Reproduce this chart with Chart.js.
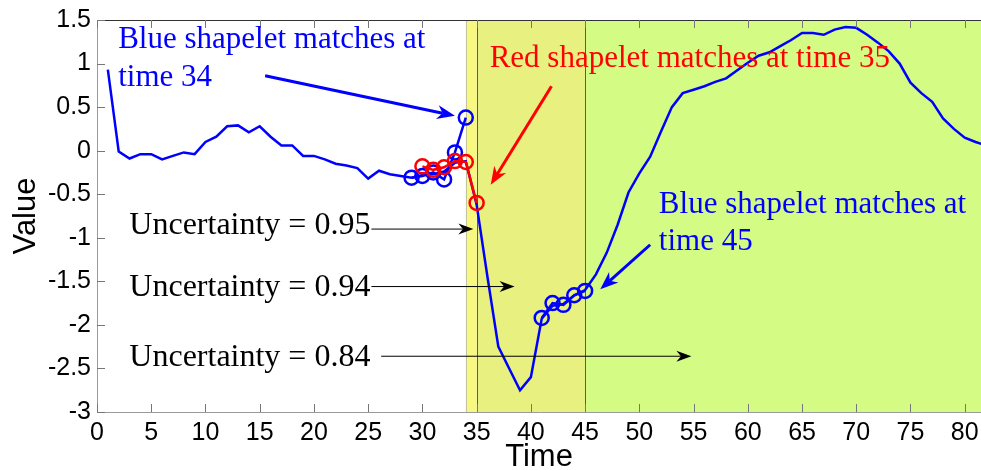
<!DOCTYPE html>
<html>
<head>
<meta charset="utf-8">
<script src="https://cdn.jsdelivr.net/npm/chart.js@4/dist/chart.umd.min.js"></script>
<style>
  html, body { margin: 0; padding: 0; background: #fff; }
  #wrap { width: 981px; height: 470px; }
</style>
</head>
<body>
<div id="wrap"><canvas id="shapeletChart" width="981" height="470"></canvas></div>
<script>
// time series, first sample at t = 1
const seriesStart = 1;
const seriesValues = [
  0.93, -0.01, -0.09, -0.04, -0.04, -0.10, -0.06, -0.02, -0.04, 0.10,
  0.16, 0.28, 0.29, 0.21, 0.28, 0.16, 0.06, 0.06, -0.06, -0.06,
  -0.10, -0.15, -0.17, -0.20, -0.32, -0.23, -0.27, -0.29, -0.31, -0.28,
  -0.27, -0.24, -0.14, -0.12, -0.62, -1.45, -2.25, -2.50, -2.75, -2.60,
  -1.93, -1.78, -1.76, -1.66, -1.60, -1.42, -1.17, -0.85, -0.48, -0.26,
  -0.07, 0.22, 0.50, 0.66, 0.70, 0.74, 0.79, 0.83, 0.92, 1.01,
  1.09, 1.13, 1.20, 1.27, 1.35, 1.35, 1.33, 1.39, 1.42, 1.41,
  1.33, 1.24, 1.14, 1.00, 0.78, 0.66, 0.56, 0.37, 0.25, 0.15,
  0.10, 0.06
];

// shapelet matches
const blueMatchATimes = [29, 30, 31, 32, 33, 34];
const blueMatchAValues = [-0.31, -0.29, -0.25, -0.33, -0.02, 0.38];
const redMatchTimes = [30, 31, 32, 33, 34, 35];
const redMatchValues = [-0.18, -0.22, -0.19, -0.12, -0.13, -0.60];
const blueMatchBTimes = [41, 42, 43, 44, 45];
const blueMatchBValues = [-1.92, -1.75, -1.77, -1.66, -1.61];

// axes
const xTicks = [0, 5, 10, 15, 20, 25, 30, 35, 40, 45, 50, 55, 60, 65, 70, 75, 80];
const yTicks = [-3, -2.5, -2, -1.5, -1, -0.5, 0, 0.5, 1, 1.5];
const xMin = 0, xMax = 81.5, yMin = -3, yMax = 1.5;

// shaded time regions
const regionStarts = [34, 35, 45];
const regionEnds = [35, 45, 81.5];
const regionLines = [35, 45];

// annotation texts
const uncertaintyLabels = ['Uncertainty = 0.95', 'Uncertainty = 0.94', 'Uncertainty = 0.84'];

const toPoints = (ts, vs) => ts.map((t, i) => ({ x: t, y: vs[i] }));
const seriesPoints = seriesValues.map((v, i) => ({ x: seriesStart + i, y: v }));

// where annotations go, in data units
const notes = [
  { text: 'Blue shapelet matches at', x: 1.95, y: 1.18, color: '#0000ff', size: 31 },
  { text: 'time 34', x: 1.95, y: 0.745, color: '#0000ff', size: 31 },
  { text: 'Red shapelet matches at time 35', x: 36.2, y: 0.955, color: '#ff0000', size: 31 },
  { text: 'Blue shapelet matches at', x: 51.8, y: -0.71, color: '#0000ff', size: 31 },
  { text: 'time 45', x: 51.8, y: -1.14, color: '#0000ff', size: 31 },
  { text: uncertaintyLabels[0], x: 2.98, y: -0.96, color: '#000000', size: 32 },
  { text: uncertaintyLabels[1], x: 2.98, y: -1.67, color: '#000000', size: 32 },
  { text: uncertaintyLabels[2], x: 2.98, y: -2.47, color: '#000000', size: 32 }
];
const arrows = [
  { from: [15.5, 0.86], to: [33.0, 0.40], color: '#0000ff', width: 3, len: 18, half: 7 },
  { from: [41.9, 0.74], to: [36.3, -0.39], color: '#ff0000', width: 3, len: 18, half: 7 },
  { from: [51.0, -1.08], to: [46.4, -1.59], color: '#0000ff', width: 3, len: 18, half: 7 },
  { from: [25.3, -0.90], to: [34.7, -0.90], color: '#000000', width: 1, len: 15, half: 5.5 },
  { from: [25.3, -1.56], to: [38.5, -1.56], color: '#000000', width: 1, len: 15, half: 5.5 },
  { from: [26.2, -2.36], to: [54.8, -2.36], color: '#000000', width: 1, len: 15, half: 5.5 }
];

const regionColors = ['#f8f880', '#e8f080', '#d4fc84'];

const backdrop = {
  id: 'backdrop',
  beforeDatasetsDraw(chart) {
    const { ctx, chartArea: a, scales: { x } } = chart;
    ctx.save();
    regionStarts.forEach((s, i) => {
      const x0 = x.getPixelForValue(s);
      const x1 = x.getPixelForValue(regionEnds[i]);
      ctx.fillStyle = regionColors[i];
      ctx.fillRect(x0, a.top, x1 - x0, a.bottom - a.top);
    });
    ctx.lineWidth = 1;
    ctx.strokeStyle = '#c4c49a';
    let px = Math.round(x.getPixelForValue(regionStarts[0])) + 0.5;
    ctx.beginPath(); ctx.moveTo(px, a.top); ctx.lineTo(px, a.bottom); ctx.stroke();
    ctx.strokeStyle = '#5c5c48';
    regionLines.forEach(t => {
      px = Math.round(x.getPixelForValue(t)) + 0.5;
      ctx.beginPath(); ctx.moveTo(px, a.top); ctx.lineTo(px, a.bottom); ctx.stroke();
    });
    ctx.restore();
  }
};

function drawArrow(ctx, x0, y0, x1, y1, ar) {
  const dx = x1 - x0, dy = y1 - y0;
  const d = Math.hypot(dx, dy);
  const ux = dx / d, uy = dy / d;
  const nx = -uy, ny = ux;
  const bx = x1 - ux * ar.len, by = y1 - uy * ar.len;
  const mx = x1 - ux * ar.len * 0.7, my = y1 - uy * ar.len * 0.7;
  ctx.strokeStyle = ar.color;
  ctx.fillStyle = ar.color;
  ctx.lineWidth = ar.width;
  ctx.beginPath(); ctx.moveTo(x0, y0); ctx.lineTo(mx, my); ctx.stroke();
  ctx.beginPath();
  ctx.moveTo(x1, y1);
  ctx.lineTo(bx + nx * ar.half, by + ny * ar.half);
  ctx.lineTo(mx, my);
  ctx.lineTo(bx - nx * ar.half, by - ny * ar.half);
  ctx.closePath();
  ctx.fill();
}

const overlay = {
  id: 'overlay',
  afterDatasetsDraw(chart) {
    const { ctx, chartArea: a, scales: { x, y } } = chart;
    ctx.save();
    // frame
    ctx.lineWidth = 1;
    ctx.strokeStyle = '#9a9a9a';
    ctx.beginPath();
    ctx.moveTo(a.left + 0.5, a.top); ctx.lineTo(a.left + 0.5, a.bottom + 0.5);
    ctx.lineTo(a.right, a.bottom + 0.5);
    ctx.stroke();
    ctx.strokeStyle = '#333';
    ctx.beginPath(); ctx.moveTo(a.left, a.top + 0.5); ctx.lineTo(a.right, a.top + 0.5); ctx.stroke();
    // inward ticks
    ctx.strokeStyle = '#777';
    xTicks.forEach(t => {
      const px = Math.round(x.getPixelForValue(t)) + 0.5;
      ctx.beginPath();
      ctx.moveTo(px, a.bottom); ctx.lineTo(px, a.bottom - 8);
      ctx.moveTo(px, a.top); ctx.lineTo(px, a.top + 8);
      ctx.stroke();
    });
    yTicks.forEach(v => {
      const py = Math.round(y.getPixelForValue(v)) + 0.5;
      ctx.beginPath();
      ctx.moveTo(a.left, py); ctx.lineTo(a.left + 8, py);
      ctx.stroke();
    });
    // arrows
    arrows.forEach(ar => {
      drawArrow(ctx, x.getPixelForValue(ar.from[0]), y.getPixelForValue(ar.from[1]),
        x.getPixelForValue(ar.to[0]), y.getPixelForValue(ar.to[1]), ar);
    });
    // texts
    ctx.textBaseline = 'alphabetic';
    ctx.textAlign = 'left';
    notes.forEach(n => {
      ctx.font = n.size + 'px "Liberation Serif", "Times New Roman", serif';
      ctx.fillStyle = n.color;
      ctx.fillText(n.text, x.getPixelForValue(n.x), y.getPixelForValue(n.y));
    });
    ctx.restore();
  }
};

const circleSet = (label, pts, color, order) => ({
  label: label,
  data: pts,
  borderColor: color,
  borderWidth: 2.5,
  pointRadius: 7,
  pointBorderWidth: 2.5,
  pointBackgroundColor: 'rgba(0,0,0,0)',
  pointBorderColor: color,
  showLine: true,
  order: order
});

const ctx = document.getElementById('shapeletChart').getContext('2d');
const chart = new Chart(ctx, {
  type: 'scatter',
  data: {
    datasets: [
      circleSet('Red shapelet', toPoints(redMatchTimes, redMatchValues), '#ff0000', 0),
      circleSet('Blue shapelet A', toPoints(blueMatchATimes, blueMatchAValues), '#0000ff', 1),
      circleSet('Blue shapelet B', toPoints(blueMatchBTimes, blueMatchBValues), '#0000ff', 1),
      {
        label: 'Series',
        data: seriesPoints,
        borderColor: '#0000ff',
        borderWidth: 2.5,
        pointRadius: 0,
        showLine: true,
        order: 2
      }
    ]
  },
  options: {
    responsive: false,
    animation: false,
    events: [],
    layout: { autoPadding: false, padding: { top: 20, right: 0, left: 0, bottom: 0 } },
    plugins: { legend: { display: false }, tooltip: { enabled: false } },
    scales: {
      x: {
        type: 'linear',
        min: xMin,
        max: xMax,
        grid: { display: false, drawTicks: false },
        border: { display: false },
        afterBuildTicks: s => { s.ticks = xTicks.map(v => ({ value: v })); },
        afterFit: s => { s.height = 58; s.paddingLeft = 0; s.paddingRight = 0; },
        ticks: {
          color: '#000',
          padding: 6,
          maxRotation: 0,
          font: { family: '"Liberation Sans", Arial, sans-serif', size: 25 },
          callback: v => String(v)
        },
        title: {
          display: true,
          text: 'Time',
          color: '#000',
          padding: { top: 0, bottom: 0 },
          font: { family: '"Liberation Sans", Arial, sans-serif', size: 31, lineHeight: 0.8 }
        }
      },
      y: {
        type: 'linear',
        min: yMin,
        max: yMax,
        grid: { display: false, drawTicks: false },
        border: { display: false },
        afterBuildTicks: s => { s.ticks = yTicks.map(v => ({ value: v })); },
        afterFit: s => { s.width = 97; s.paddingTop = 0; s.paddingBottom = 0; },
        ticks: {
          color: '#000',
          padding: 6,
          font: { family: '"Liberation Sans", Arial, sans-serif', size: 25 },
          callback: v => String(v)
        },
        title: {
          display: true,
          text: 'Value',
          color: '#000',
          padding: { top: 8, bottom: 0 },
          font: { family: '"Liberation Sans", Arial, sans-serif', size: 31 }
        }
      }
    }
  },
  plugins: [backdrop, overlay]
});
</script>
</body>
</html>
